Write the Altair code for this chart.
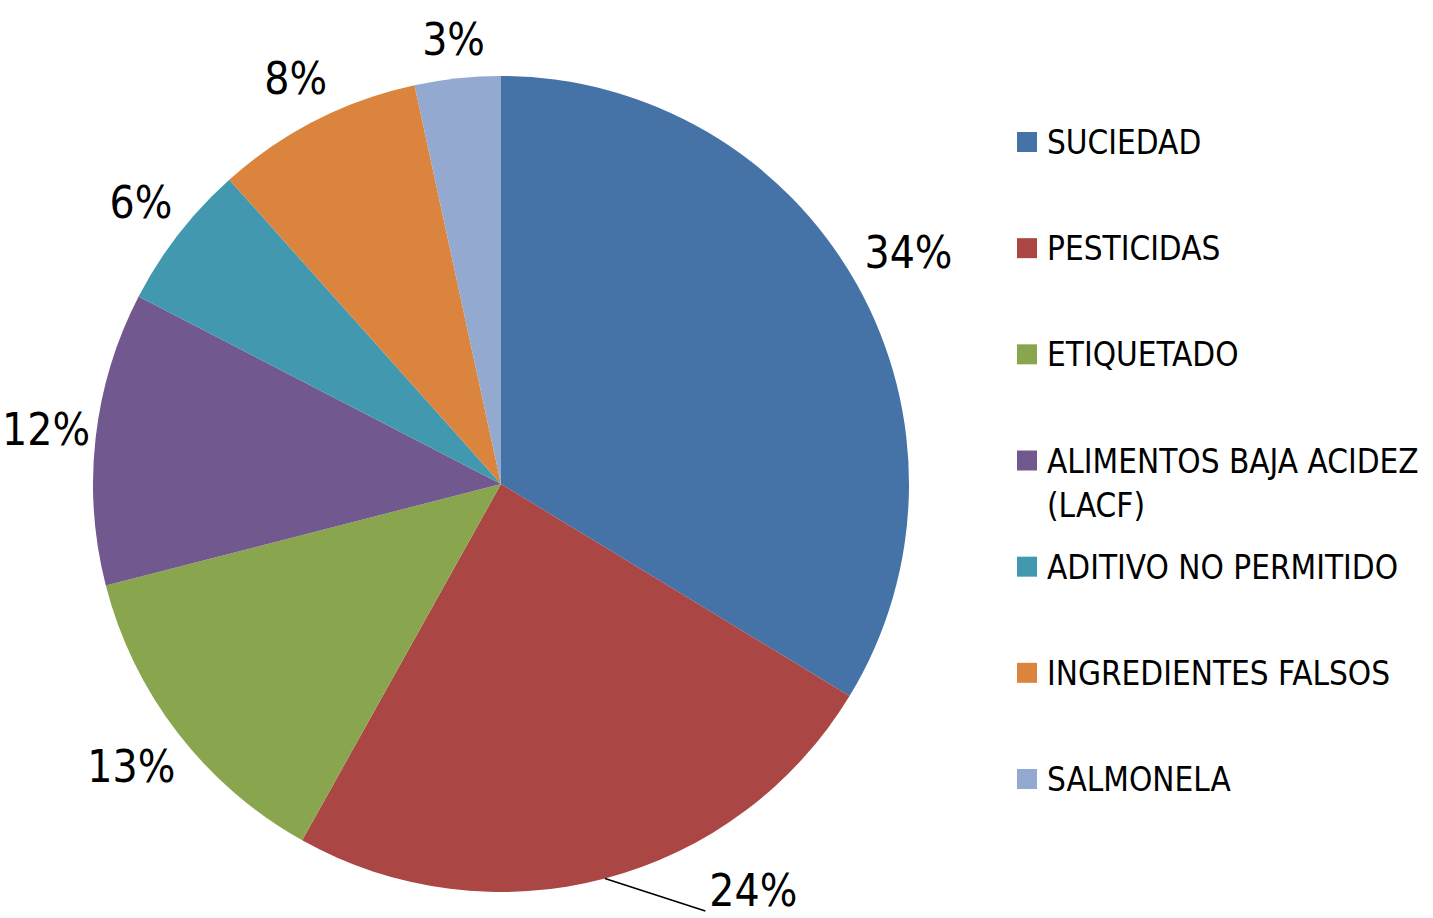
import altair as alt
import pandas as pd

categories = ["SUCIEDAD", "PESTICIDAS", "ETIQUETADO", "ALIMENTOS BAJA ACIDEZ (LACF)",
              "ADITIVO NO PERMITIDO", "INGREDIENTES FALSOS", "SALMONELA"]
legend_text = ["SUCIEDAD", "PESTICIDAS", "ETIQUETADO", "ALIMENTOS BAJA ACIDEZ\n(LACF)",
               "ADITIVO NO PERMITIDO", "INGREDIENTES FALSOS", "SALMONELA"]
values = [33.7, 24.4, 12.9, 11.6, 5.8, 8.2, 3.4]
pct_labels = ["34%", "24%", "13%", "12%", "6%", "8%", "3%"]
colors = ["#4572A7", "#AA4643", "#89A54E", "#71588F", "#4198AF", "#DB843D", "#93A9CF"]

df = pd.DataFrame({"cat": categories, "legend": legend_text, "value": values,
                   "label": pct_labels, "idx": list(range(len(categories)))})

FONT = "Liberation Sans Narrow, Arial Narrow, DejaVu Sans Condensed, sans-serif"
CX, CY, R = 501, 484, 408
YMAX = 893

color = alt.Color("cat:N", scale=alt.Scale(domain=categories, range=colors), legend=None)
base = alt.Chart(df)

pie = base.mark_arc(outerRadius=R, stroke=None).encode(
    theta=alt.Theta("value:Q", stack=True),
    color=color,
    order=alt.Order("idx:Q"),
    x=alt.value(CX), y=alt.value(CY),
)

geo = base.transform_window(
    cum="sum(value)", sort=[alt.SortField("idx")], frame=[None, 0]
).transform_joinaggregate(total="sum(value)").transform_calculate(
    mid="2*PI*(datum.cum - datum.value/2)/datum.total",
    hw="14*length(datum.label)",
).transform_calculate(
    rl=f"{R} + 12 + abs(sin(datum.mid))*datum.hw + abs(cos(datum.mid))*22",
    sgn="sin(datum.mid) >= 0 ? 1 : -1",
).transform_calculate(
    ry=f"{CY} - datum.rl*cos(datum.mid)",
).transform_calculate(
    clamped=f"datum.ry > {YMAX}",
    ly=f"min(datum.ry, {YMAX})",
).transform_calculate(
    lx0=(f"datum.clamped ? {CX} + datum.sgn*(sqrt(max(datum.rl*datum.rl - pow(datum.ly-{CY},2), 0)) + 60)"
         f" : {CX} + datum.rl*sin(datum.mid)"),
    ax=f"{CX} + {R}*sin(datum.mid)",
    ay=f"{CY} - {R}*cos(datum.mid)",
).transform_calculate(
    lx="max(datum.lx0, datum.hw + 4)",
).transform_calculate(
    bx="datum.lx - datum.sgn*(datum.hw + 6)",
    by="datum.ly + 18",
)

leaders = geo.transform_filter("datum.clamped").mark_rule(color="black", strokeWidth=1.5).encode(
    x=alt.X("ax:Q", scale=None), y=alt.Y("ay:Q", scale=None),
    x2="bx:Q", y2="by:Q",
)

labels = geo.mark_text(font=FONT, fontSize=44, align="center", baseline="middle",
                       color="black").encode(
    x=alt.X("lx:Q", scale=None), y=alt.Y("ly:Q", scale=None), text="label:N"
)

ly = alt.Y("cat:N", scale=alt.Scale(domain=categories, range=[142, 779], padding=0), axis=None)
leg_sq = base.mark_square(size=400, opacity=1).encode(
    x=alt.value(1027), y=ly, color=color
)
leg_tx = base.mark_text(font=FONT, fontSize=33, align="left", baseline="alphabetic",
                        dy=12, lineBreak="\n", lineHeight=44, color="black").encode(
    x=alt.value(1047), y=ly, text="legend:N"
)

chart = alt.layer(pie, leaders, labels, leg_sq, leg_tx).resolve_scale(
    x="independent", y="independent"
).properties(
    width=1433, height=918, padding=0,
    autosize=alt.AutoSizeParams(type="none"),
).configure_view(stroke=None)

chart.save("out.html", embed_options={"renderer": "svg", "actions": False})
